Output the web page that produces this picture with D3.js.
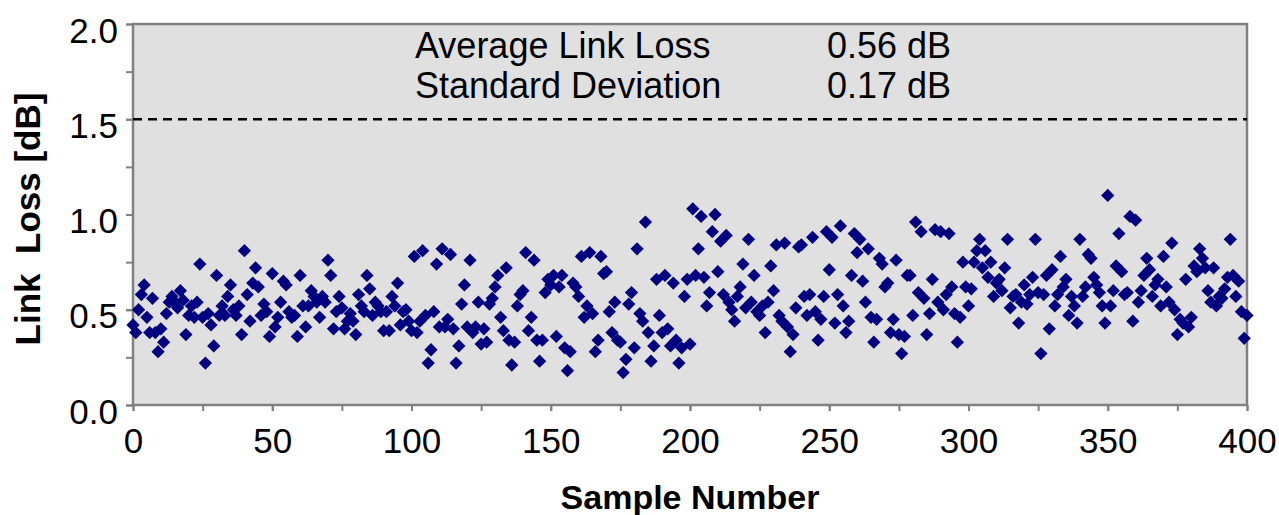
<!DOCTYPE html>
<html>
<head>
<meta charset="utf-8">
<script src="https://cdn.jsdelivr.net/npm/d3@7"></script>
<style>
  html, body { margin: 0; padding: 0; background: #ffffff; }
  svg { display: block; font-family: "Liberation Sans", Arial, sans-serif; }
</style>
</head>
<body>
<svg id="chart" width="1279" height="515"></svg>
<script>
// ---- data ----
const sampleNumbers = d3.range(0, 401);
const linkLoss = [
  0.42,0.38,0.50,0.58,0.63,0.46,0.38,0.56,0.38,0.28,
  0.40,0.33,0.48,0.54,0.57,0.54,0.51,0.60,0.55,0.37,
  0.47,0.52,0.46,0.54,0.74,0.46,0.22,0.48,0.42,0.31,
  0.68,0.47,0.52,0.47,0.57,0.63,0.50,0.47,0.52,0.37,
  0.81,0.58,0.44,0.64,0.72,0.62,0.47,0.53,0.49,0.36,
  0.69,0.41,0.46,0.54,0.65,0.63,0.49,0.46,0.47,0.36,
  0.68,0.52,0.41,0.52,0.60,0.57,0.54,0.46,0.57,0.54,
  0.76,0.68,0.40,0.49,0.57,0.51,0.40,0.44,0.48,0.44,
  0.37,0.58,0.52,0.49,0.68,0.61,0.47,0.54,0.52,0.49,
  0.39,0.49,0.39,0.57,0.52,0.64,0.42,0.49,0.50,0.44,
  0.39,0.78,0.38,0.44,0.81,0.47,0.22,0.29,0.49,0.74,
  0.41,0.82,0.41,0.45,0.79,0.40,0.22,0.31,0.53,0.63,
  0.41,0.76,0.38,0.41,0.54,0.32,0.40,0.33,0.53,0.56,
  0.62,0.68,0.46,0.39,0.72,0.34,0.21,0.33,0.52,0.58,
  0.60,0.80,0.39,0.46,0.76,0.34,0.23,0.34,0.59,0.66,
  0.63,0.68,0.36,0.62,0.68,0.30,0.18,0.28,0.64,0.62,
  0.57,0.78,0.46,0.52,0.80,0.48,0.28,0.34,0.78,0.69,
  0.70,0.49,0.38,0.54,0.34,0.33,0.17,0.24,0.53,0.59,
  0.30,0.82,0.48,0.44,0.96,0.38,0.23,0.31,0.66,0.47,
  0.38,0.68,0.40,0.31,0.64,0.34,0.22,0.30,0.57,0.66,
  0.32,1.03,0.68,0.82,0.99,0.67,0.52,0.59,0.91,1.00,
  0.70,0.86,0.58,0.89,0.54,0.50,0.44,0.57,0.62,0.74,
  0.51,0.87,0.54,0.68,0.49,0.47,0.52,0.38,0.54,0.73,
  0.60,0.84,0.47,0.44,0.85,0.41,0.28,0.37,0.51,0.83,
  0.84,0.57,0.47,0.58,0.88,0.49,0.34,0.45,0.57,0.91,
  0.71,0.88,0.43,0.58,0.94,0.52,0.38,0.44,0.68,0.90,
  0.80,0.87,0.65,0.54,0.82,0.46,0.33,0.45,0.77,0.74,
  0.62,0.64,0.38,0.45,0.76,0.37,0.27,0.36,0.68,0.68,
  0.47,0.96,0.59,0.91,0.56,0.37,0.48,0.66,0.92,0.54,
  0.91,0.50,0.58,0.90,0.62,0.48,0.33,0.46,0.75,0.62,
  0.52,0.61,0.75,0.81,0.87,0.72,0.81,0.67,0.75,0.57,
  0.64,0.66,0.60,0.72,0.87,0.51,0.57,0.58,0.43,0.54,
  0.63,0.53,0.58,0.67,0.87,0.59,0.27,0.58,0.68,0.40,
  0.71,0.52,0.58,0.78,0.62,0.66,0.47,0.57,0.52,0.43,
  0.87,0.57,0.62,0.79,0.77,0.67,0.63,0.59,0.52,0.43,
  1.10,0.52,0.60,0.73,0.90,0.70,0.58,0.59,0.99,0.44,
  0.97,0.54,0.60,0.68,0.77,0.71,0.57,0.63,0.66,0.52,
  0.78,0.62,0.54,0.85,0.50,0.37,0.45,0.43,0.66,0.41,
  0.46,0.73,0.70,0.82,0.77,0.72,0.60,0.54,0.72,0.52,
  0.57,0.56,0.61,0.67,0.87,0.68,0.57,0.65,0.49,0.35,
  0.47
];
const xTicks = [0, 50, 100, 150, 200, 250, 300, 350, 400];
const xMinorTicks = d3.range(0, 401, 25);
const yTicks = [0, 0.5, 1.0, 1.5, 2.0];
const yMinorTicks = [0, 0.25, 0.5, 0.75, 1.0, 1.25, 1.5, 1.75, 2.0];
const limitValue = 1.5;
const statLabels = ["Average Link Loss", "Standard Deviation"];
const statValues = ["0.56 dB", "0.17 dB"];
const xTitle = "Sample Number";
const yTitle = "Link  Loss [dB]";

(function draw() {
  const svg = d3.select("#chart");
  const pL = 133, pR = 1247, pT = 24, pB = 405;
  const x = d3.scaleLinear().domain([0, 400]).range([pL, pR]);
  const y = d3.scaleLinear().domain([0, 2]).range([pB, pT]);
  const axisColor = "#808080";
  const ff = "'Liberation Sans', Arial, sans-serif";

  svg.append("rect")
    .attr("x", pL).attr("y", pT)
    .attr("width", pR - pL).attr("height", pB - pT)
    .attr("fill", "#e0e0e0");

  const yMinor = svg.append("g").attr("transform", `translate(${pL},0)`)
    .call(d3.axisLeft(y).tickValues(yMinorTicks).tickSize(7).tickFormat(""));
  const yAxis = svg.append("g").attr("transform", `translate(${pL},0)`)
    .call(d3.axisLeft(y).tickValues(yTicks).tickSize(7).tickPadding(8).tickFormat(d3.format(".1f")));
  [yMinor, yAxis].forEach(g => {
    g.select(".domain").remove();
    g.selectAll(".tick line").attr("stroke", axisColor).attr("stroke-width", 2);
  });
  yAxis.selectAll(".tick text")
    .attr("font-size", 35).attr("fill", "#000").attr("dy", "0.52em")
    .style("font-family", ff);

  const xMinor = svg.append("g").attr("transform", `translate(0,${pB})`)
    .call(d3.axisBottom(x).tickValues(xMinorTicks).tickSize(6).tickFormat(""));
  const xAxis = svg.append("g").attr("transform", `translate(0,${pB})`)
    .call(d3.axisBottom(x).tickValues(xTicks).tickSize(6).tickPadding(17).tickFormat(d3.format("d")));
  [xMinor, xAxis].forEach(g => {
    g.select(".domain").remove();
    g.selectAll(".tick line").attr("stroke", axisColor).attr("stroke-width", 2);
  });
  xAxis.selectAll(".tick text")
    .attr("font-size", 35).attr("fill", "#000")
    .style("font-family", ff);

  svg.append("rect")
    .attr("x", pL).attr("y", pT)
    .attr("width", pR - pL).attr("height", pB - pT)
    .attr("fill", "none").attr("stroke", axisColor).attr("stroke-width", 2.5);

  svg.append("line")
    .attr("x1", x(0)).attr("x2", x(400))
    .attr("y1", y(limitValue)).attr("y2", y(limitValue))
    .attr("stroke", "#000").attr("stroke-width", 2.5)
    .attr("stroke-dasharray", "9,6");

  const diamond = d3.symbol().type(d3.symbolSquare).size(88);
  svg.append("g").selectAll("path")
    .data(sampleNumbers.map((s, i) => ({ s, v: linkLoss[i] })))
    .join("path")
    .attr("d", diamond)
    .attr("transform", d => `translate(${x(d.s)},${y(d.v)}) rotate(45)`)
    .attr("fill", "#000080");

  const stats = svg.append("g").attr("font-size", 36).attr("fill", "#000");
  statLabels.forEach((t, i) => {
    stats.append("text").attr("x", 415).attr("y", 58 + i * 40).text(t);
    stats.append("text").attr("x", 827).attr("y", 58 + i * 40).text(statValues[i]);
  });

  svg.append("text")
    .attr("x", 690).attr("y", 509)
    .attr("text-anchor", "middle").attr("font-size", 34).attr("font-weight", "bold")
    .text(xTitle);
  svg.append("text")
    .attr("transform", "translate(40,219) rotate(-90)")
    .attr("text-anchor", "middle").attr("font-size", 35).attr("font-weight", "bold")
    .style("white-space", "pre")
    .text(yTitle);
})();
</script>
</body>
</html>
